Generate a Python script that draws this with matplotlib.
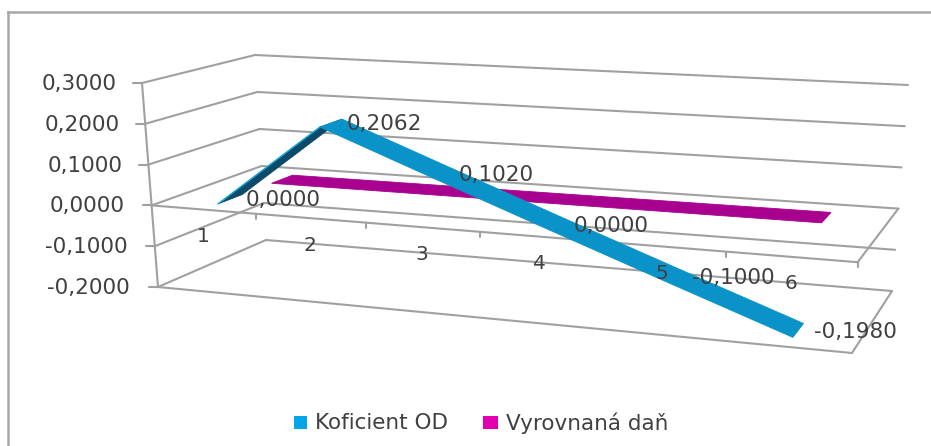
import matplotlib
matplotlib.use("Agg")
import matplotlib.pyplot as plt
from matplotlib.patches import Polygon, Rectangle
import numpy as np

categories = ["1", "2", "3", "4", "5", "6"]
koficient_od = [0.0, 0.2062, 0.1020, 0.0, -0.1000, -0.1980]
vyrovnana_dan = [0.0, 0.0, 0.0, 0.0, 0.0, 0.0]
value_ticks = [0.3, 0.2, 0.1, 0.0, -0.1, -0.2]
series_names = ["Koficient OD", "Vyrovnaná daň"]

V_MIN, V_MAX = -0.2, 0.3
PERSPECTIVE = 1.15

# box corners in canvas pixels: (category end, depth end) -> bottom / top of the value range
BOTTOM = {(0, 0): (158, 287), (1, 0): (852, 353), (0, 1): (266, 240), (1, 1): (892, 291)}
TOP = {(0, 0): (142, 83), (1, 0): (866, 126), (0, 1): (255, 55), (1, 1): (908, 85)}

GRID = "#a0a0a0"
TEXT = "#404040"
FONT = 15.5


def project(cat, val, depth):
    """Map category position (0..6), value and depth (0..1) to canvas pixels."""
    u = cat / len(categories)
    u = u / (u + PERSPECTIVE * (1 - u))
    h = (val - V_MIN) / (V_MAX - V_MIN)
    pt = np.zeros(2)
    for i, wu in ((0, 1 - u), (1, u)):
        for j, wd in ((0, 1 - depth), (1, depth)):
            b = np.array(BOTTOM[(i, j)], dtype=float)
            t = np.array(TOP[(i, j)], dtype=float)
            pt += wu * wd * (b + (t - b) * h)
    return pt


def fmt(v):
    return f"{v:.4f}".replace(".", ",")


def seg(ax, p, q, lw=1.5, color=GRID, z=1):
    ax.plot([p[0], q[0]], [p[1], q[1]], color=color, lw=lw, zorder=z, solid_capstyle="round")


def ribbon(ax, values, d0, d1, top_color, under_color, edge_color, z):
    for i in range(len(values) - 1):
        a, b = i + 0.5, i + 1.5
        corners = [project(a, values[i], d0), project(b, values[i + 1], d0),
                   project(b, values[i + 1], d1), project(a, values[i], d1)]
        rising = values[i + 1] > values[i]
        color = under_color if rising else top_color
        # same-colour edge closes the hairline seams between segments
        ax.add_patch(Polygon(corners, closed=True, facecolor=color, edgecolor=color, lw=0.6,
                             zorder=z + (0 if rising else 0.1)))
        if rising:
            seg(ax, corners[0], corners[1], lw=1.0, color=edge_color, z=z + 0.05)


fig = plt.figure(figsize=(9.31, 4.46), dpi=100, facecolor="white")
ax = fig.add_axes([0, 0, 1, 1])
ax.set_xlim(0, 931)
ax.set_ylim(446, 0)
ax.axis("off")

# chart frame, open towards the right and bottom edges
ax.plot([8, 8], [446, 11.5], color="#a8a8a8", lw=1.8, zorder=0)
ax.plot([8, 931], [11.5, 11.5], color="#a8a8a8", lw=1.8, zorder=0)

# walls and gridlines
for v in value_ticks:
    front, back_l, back_r = project(0, v, 0), project(0, v, 1), project(6, v, 1)
    seg(ax, front, back_l)
    seg(ax, back_l, back_r)
    seg(ax, front, front + (-9, 0))
    gap = 25 + 6 * (V_MAX - v)
    ax.text(front[0] - gap, front[1] + 1, fmt(v), ha="right", va="center", fontsize=FONT, color=TEXT, zorder=6)
seg(ax, project(0, V_MAX, 0), project(0, V_MIN, 0))

# floor and zero plane front edges
for v in (V_MIN, 0.0):
    seg(ax, project(0, v, 0), project(6, v, 0))
    seg(ax, project(6, v, 0), project(6, v, 1))

for i in range(len(categories)):
    p = project(i + 1, 0.0, 0)
    seg(ax, p, p + (0, 5))
    c = project(i + 0.5, 0.0, 0)
    ax.text(c[0], c[1] + 27, categories[i], ha="center", va="center", fontsize=14.5, color=TEXT, zorder=6)

ribbon(ax, vyrovnana_dan, 0.65, 0.85, "#a8008f", "#a8008f", "#d000b0", 3)
ribbon(ax, koficient_od, 0.14, 0.37, "#0a93c8", "#0b4a68", "#12aee0", 4)

# data labels sit just right of the ribbon centre
for i, v in enumerate(koficient_od):
    p = project(i + 0.5, v, 0.25)
    ax.text(p[0] + 16, p[1] + 1, fmt(v), ha="left", va="center", fontsize=FONT, color=TEXT, zorder=7)

# legend
ax.add_patch(Rectangle((294, 416), 13, 13, facecolor="#00a6e8", edgecolor="none", zorder=6))
ax.text(315, 423, series_names[0], ha="left", va="center", fontsize=FONT, color=TEXT, zorder=6)
ax.add_patch(Rectangle((483, 416), 15, 13, facecolor="#e000b0", edgecolor="none", zorder=6))
ax.text(506, 423, series_names[1], ha="left", va="center", fontsize=FONT, color=TEXT, zorder=6)

fig.savefig("out.png", dpi=100)
